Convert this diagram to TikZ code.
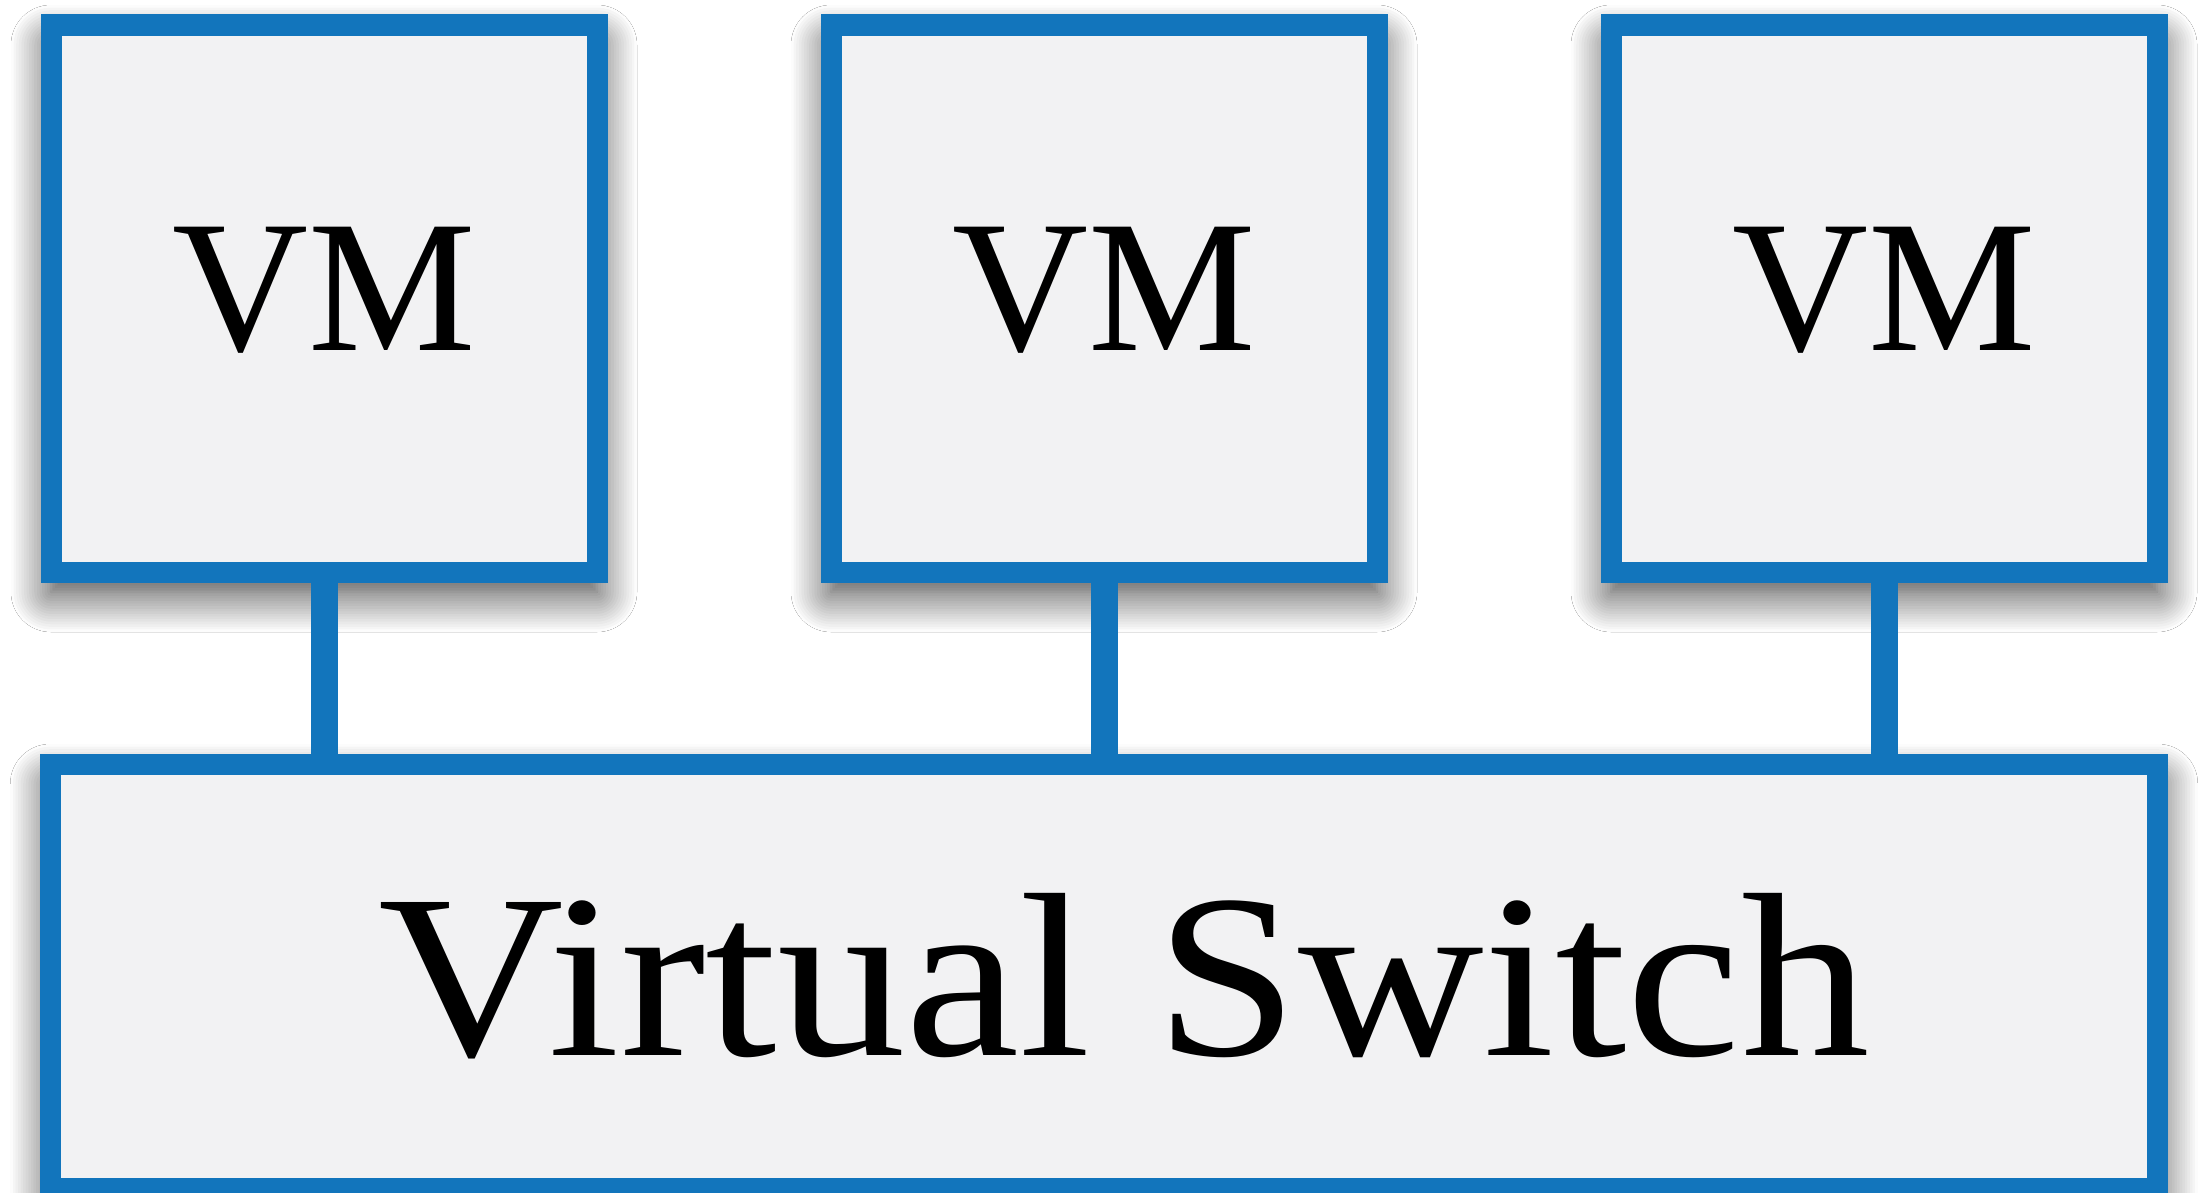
\documentclass[tikz,border=0pt]{standalone}
\usepackage{fontspec}
\setmainfont{Liberation Serif}
\newfontfamily\wideserif[FakeStretch=1.1]{Liberation Serif}
\usetikzlibrary{positioning, shadows.blur, backgrounds}
\definecolor{vmBlue}{RGB}{18, 117, 188}
\definecolor{vmGray}{RGB}{242, 242, 243}

\begin{document}
\begin{tikzpicture}[
    node distance=1.92cm and 2.34cm,
    % Base box style
    basebox/.style={
        draw=vmBlue,
        fill=vmGray,
        line width=0.21cm,
        inner sep=0pt,
        outer sep=0pt,
        blur shadow={shadow xshift=0pt, shadow yshift=-0.2cm, shadow blur radius=0.4cm, shadow blur steps=16, shadow opacity=80}
    },
    % Virtual machines
    vmbox/.style={
        basebox,
        minimum width=5.46cm,
        minimum height=5.47cm,
        text depth=0.2cm,
        font=\fontsize{53.6}{60}\selectfont
    },
    % Switch underneath
    switchbox/.style={
        basebox,
        minimum width=21.075cm,
        minimum height=4.24cm,
        font=\wideserif\fontsize{66.5}{75}\selectfont
    },
    % Links VM -> switch
    link/.style={
        draw=vmBlue,
        line width=0.27cm
    }
]

    \useasboundingbox (0,0) rectangle (21.98,-11.92);

    % --- VMs ---
    \node[vmbox] (vm1) at (3.24,-2.985) {VM};
    \node[vmbox, right=of vm1] (vm2) {VM};
    \node[vmbox, right=of vm2] (vm3) {VM};

    % --- Switch ---
    \node[switchbox, below=of vm2] (vswitch) {\hspace*{0.4cm}Virtual Switch};

    % --- Links ---
    \foreach \i in {1,2,3}
        \draw[link] (vm\i.south) -- (vm\i.south |- vswitch.north);

    % --- Background ---
    \begin{scope}[on background layer]
        \fill[white] (0,0) rectangle (21.98,-11.92);
    \end{scope}

\end{tikzpicture}
\end{document}
